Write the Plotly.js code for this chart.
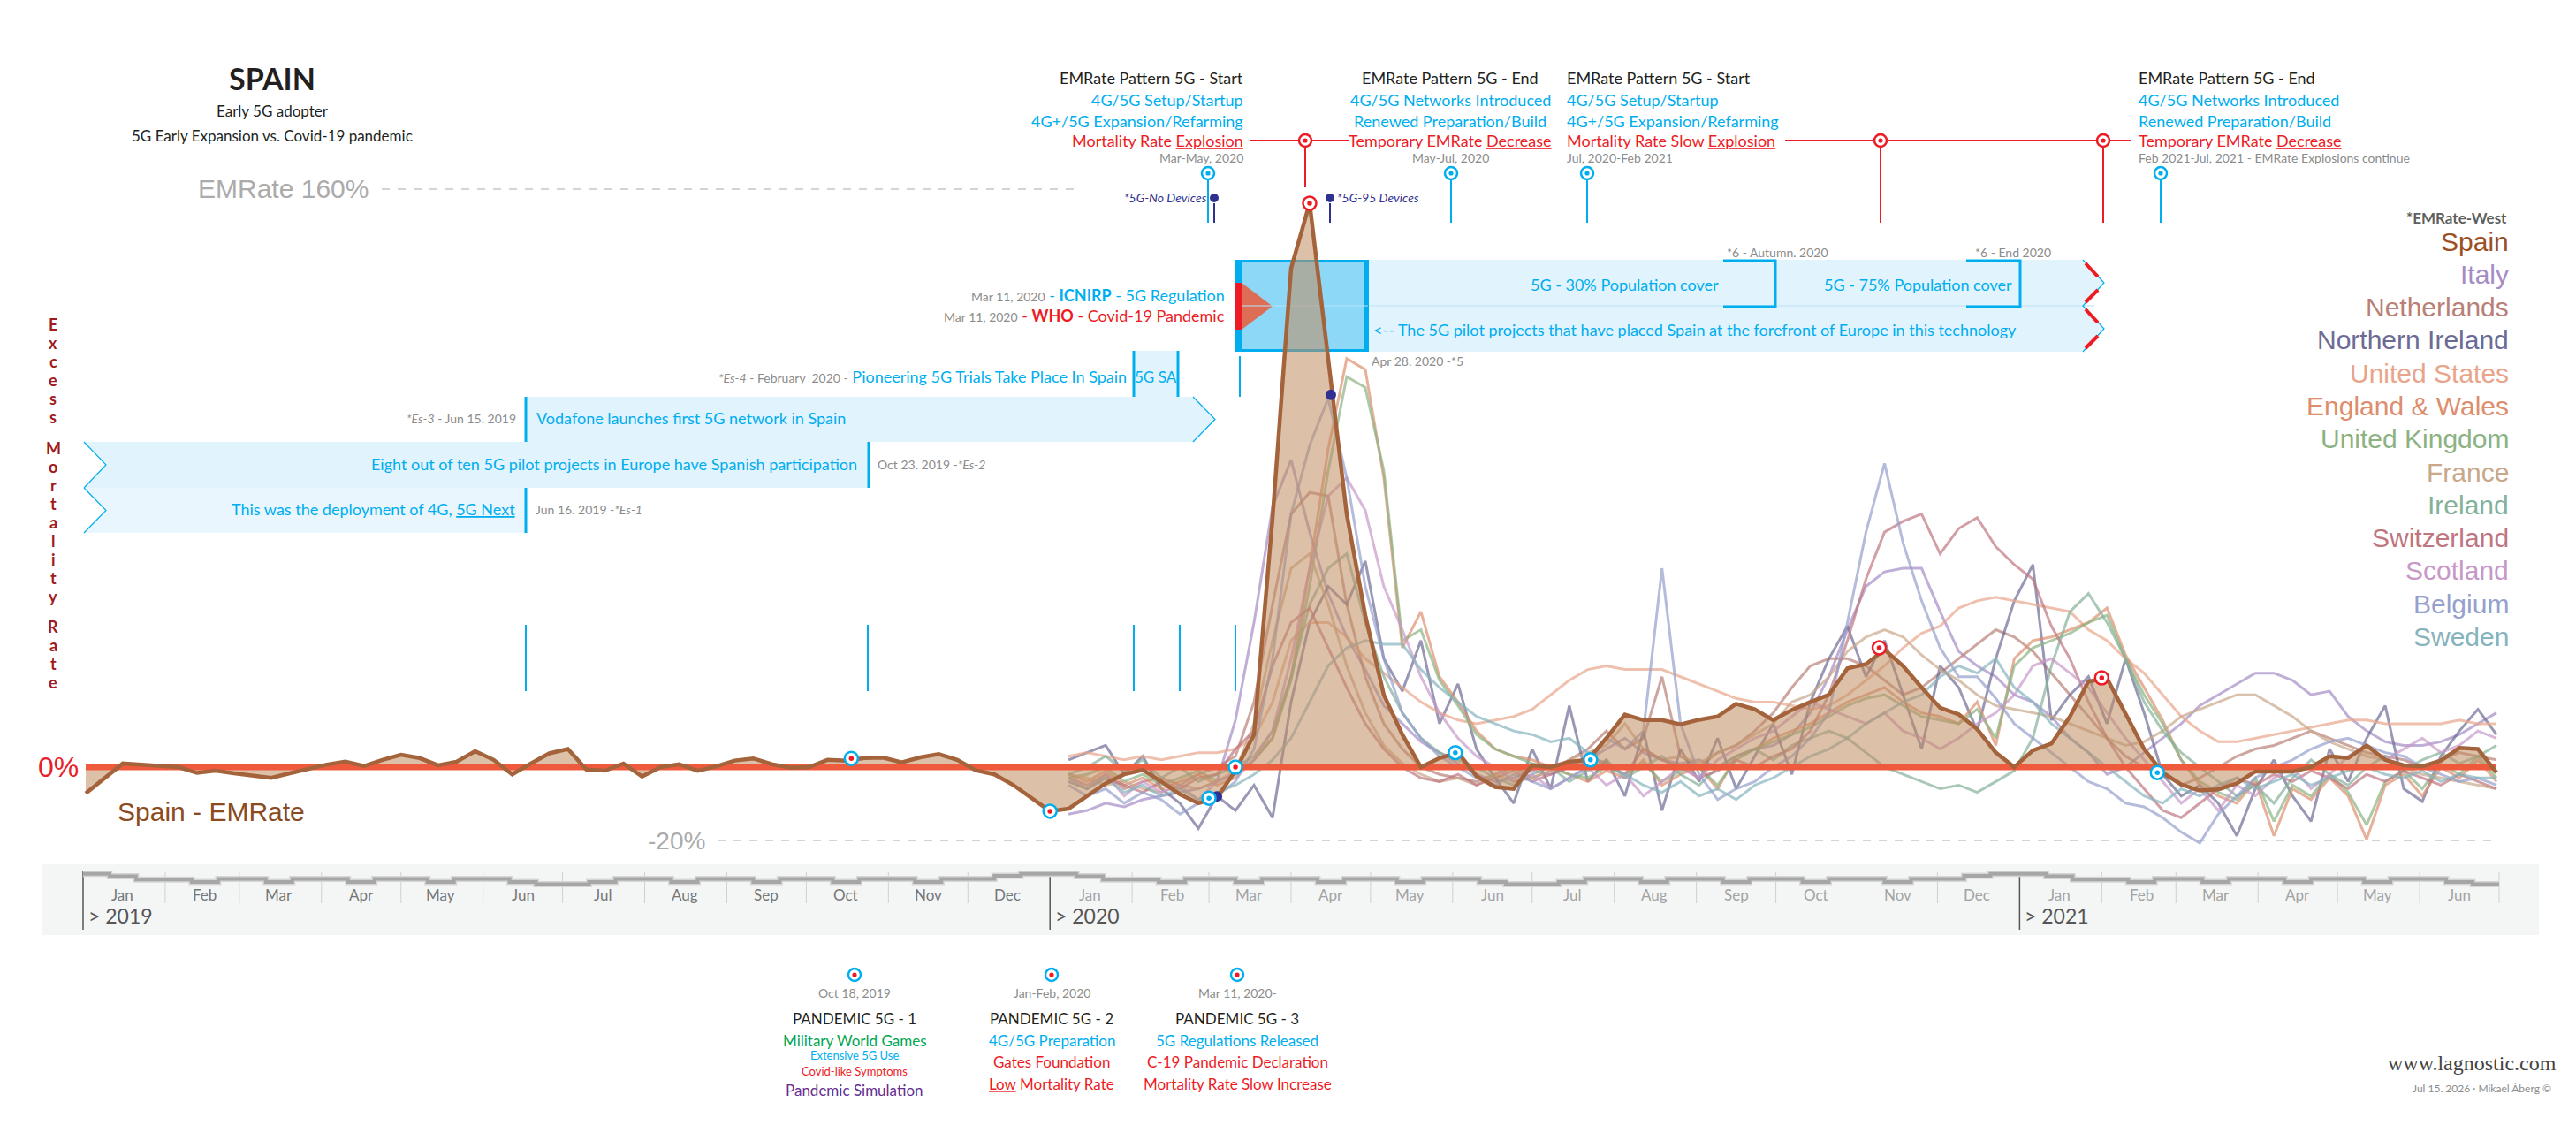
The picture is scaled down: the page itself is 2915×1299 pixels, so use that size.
<!DOCTYPE html>
<html><head><meta charset="utf-8">
<script src="https://cdn.plot.ly/plotly-3.0.1.min.js"></script>
<style>html,body{margin:0;padding:0;background:#fff;}#chart{width:2915px;height:1299px;}</style>
</head><body><div id="chart"></div>
<script>
// ---------------- DATA ----------------
// Spain weekly excess mortality (%), weeks starting 2019-01-02
const spainEMR = [
-7.3,-3,1,0.7,0.3,0,-1.6,-1,-1.7,-2.4,-3,-1.7,-0.6,0.7,1.5,0.3,2,3.4,2.5,0.5,1.5,4.4,2,-2,1,3.8,5,-0.7,-1,1,-2.6,0,0.8,-1,0.2,1.8,2.4,0.8,-0.2,0,2,1.8,2.5,2.6,1.3,2.7,3.6,2,-0.9,-2,-4.9,-8.5,-12.2,
-11.5,-8,-4.5,-2,-0.8,-4,-7.5,-10,-8.5,-1,
9,69,138,156,113,70,42,20,9,0,
2.5,4,-2.5,-5.5,-6,0.5,0,1.5,2,8,
14.5,13,13,11.8,13.1,14,17.5,16,13,15.8,
18,20,27.3,28.5,32.5,28,22,16.4,14.6,10.5,
4,0,4.6,6.5,14,23.7,24.5,15,5,-1.5,
-4.8,-6.5,-6.2,-4.5,-1.2,-1.2,-1.2,0,3,2.5,
6,2,0.5,0.2,1.8,5.3,5,-1.5];

// Other countries, weekly excess mortality (%), weeks starting 2020-01-08
const italy = [-13,-12,-10,-11,-9,-8,-7,-6,-4,13, 40,72,85,65,48,36,27,17,12,7, 4,1,-2,-4,-3,-1,-2,0,2,5, 8,4,2,1,2,0,3,5,6,9, 15,25,38,50,54,55,55,43,32,28, 25,20,18,14,8,4,-2,0,4,8, 12,17,20,23,26,26,24,20,21,14, 10,7,6,6,7,9,12,15];
const netherlands = [-3,-5,-2,-6,-4,-3,-5,-2,0,3, 18,45,70,76,75,45,25,12,5,0, -2,-3,-4,-2,0,-3,-1,2,5,10, 5,8,25,3,0,4,6,10,15,22, 28,30,30,28,24,20,22,26,30,34, 38,36,32,26,20,14,8,3,0,-2, -5,-3,0,3,5,6,8,10,8,6, 4,3,2,0,2,4,3,2];
const northernIreland = [2,4,6,-2,3,-6,-10,-17,-8,-12, -5,-14,18,40,50,45,57,30,21,35, 12,23,5,-3,-10,5,-6,17,-4,2, -8,10,-12,5,-4,8,-6,3,12,-2, 18,30,39,25,35,20,5,28,22,10, 30,46,56,13,20,25,12,30,15,-2, -8,-5,-10,-19,-6,2,-8,-15,5,-4, 8,17,-6,-9.5,3,10,16,9];
const unitedStates = [3,4,3,2,3,2,3,4,4,5, 8,18,35,40,40,36,30,26,22,18, 15,13,12,13,14,16,20,24,27,28, 27,27,27,25,23,21,19,18,18,17, 16,17,20,24,28,33,37,39,44,46, 47,46,45,44,43,38,35,30,26,20, 14,10,7,7,8,9,10,11,12,13, 13,12,12,12,12,13,12,12];
const englandWales = [-2,-4,-1,-5,-3,-6,-4,-2,-5,-3, 2,8,25,55,88,113,110,80,33,43, 25,18,10,5,3,2,0,-2,-4,-1, -3,2,-5,-2,0,-6,3,5,8,10, 12,15,18,20,22,18,15,14,12,18, 6,30,35,36,38,40,44,31,22,13, 2,-5,-8,-10,-4,-19,-6,-9,-3,-8, -20,-5,-2,-8,0,-3,2,-4];
const unitedKingdom = [-3,-2,0,-4,-2,-5,-3,-1,-4,-2, 2,8,24,50,82,108,105,82,35,38, 24,17,9,5,3,1,0,-2,-3,0, -2,1,-4,-1,0,-5,2,5,7,9, 11,14,17,19,20,17,14,13,12,16, 8,28,33,35,37,40,42,30,20,12, 2,-4,-7,-9,-3,-15,-5,-8,-2,-7, -16,-4,-1,-6,1,-2,3,-3];
const france = [-2,-3,-5,-4,-6,-7,-5,-6,-4,-1, 12,35,55,59,45,28,15,6,1,-2, -4,-3,-5,-2,-4,-3,-1,2,4,6, 12,5,2,3,1,4,6,9,12,18, 20,25,32,36,38,36,31,27,24,20, 17,16,15,14,12,10,8,6,7,10, 14,16,18,20,20,17,14,10,7,5, 3,2,0,-2,-3,-4,-5,-6];
const ireland = [-2,0,3,-1,2,-3,0,-4,-2,0, 3,10,25,45,55,59,40,25,15,8, 4,2,0,-3,-5,-2,0,-4,-1,2, -3,0,3,-2,-5,0,3,5,2,6, 8,10,8,4,0,-2,-4,-6,-5,-7, -4,-1,8,28,43,48,40,30,18,10, 4,0,-4,-8,-5,-10,-3,2,-2,-5, 0,3,-1,2,4,1,3,6];
const switzerland = [-4,-6,-3,-5,-7,-4,-6,-3,-2,5, 10,28,40,44,33,22,12,5,0,-3, -4,-2,-5,-3,-1,-4,-2,0,3,1, -2,5,2,0,-3,-1,2,0,3,5, 10,20,35,52,65,68,70,59,66,69, 61,56,52,39,30,18,8,0,-6,-12, -14,-10,-6,-3,-5,-2,-4,-1,-3,-6, -2,-4,-1,-3,-5,-2,-4,-6];
const scotland = [-3,-6,-2,-8,-4,-7,-5,-9,-4,-2, 2,10,30,55,75,80,71,50,38,25, 15,8,3,0,-4,-2,-6,-3,0,-5, -2,-8,-4,0,-3,2,5,8,10,14, 18,16,14,12,15,10,8,5,8,12, 15,20,28,30,26,22,15,8,2,-4, -10,-6,-12,-5,-8,-3,0,-6,-2,3, 6,2,5,8,4,6,10,8];
const belgium = [-5,-8,-6,-10,-7,-9,-13,-10,-8,-4, 5,30,70,89,102,80,50,30,15,8, 3,0,-3,-5,-2,-4,-6,-3,0,8, 5,10,55,12,-2,-9,-6,-4,0,3, 8,15,40,65,84,62,46,33,25,25, 19,12,8,4,0,-4,-6,-10,-11,-14, -18,-21,-13,-8,-3,0,2,5,7,8, 6,4,3,0,-2,-4,-3,-5];
const sweden = [-4,-6,-3,-7,-5,-8,-6,-9,-7,-5, -2,2,8,18,28,33,35,34,34,27, 22,18,14,12,10,9,7,8,4,0, -2,-5,-7,-4,-8,-6,-9,-5,-3,0, 3,5,8,12,15,18,20,25,28,26, 30,22,18,12,8,4,0,-4,-8,-10, -6,-8,-5,-3,-6,-4,-2,-5,-3,-1, 0,-2,-3,-1,-4,-2,-3,-3];

const countryNames = ['Italy','Netherlands','Northern Ireland','United States','England & Wales','United Kingdom','France','Ireland','Switzerland','Scotland','Belgium','Sweden'];
const countryColors = ['#a48cc4','#b98078','#6c6b94','#e8a58c','#dd8e6e','#8cb283','#c9a88a','#84b198','#bf7680','#c898c8','#96a0cc','#86b3bd'];
const countrySeries = [italy,netherlands,northernIreland,unitedStates,englandWales,unitedKingdom,france,ireland,switzerland,scotland,belgium,sweden];

// Event markers on the Spain curve
const eventDates  = ['2019-10-18','2020-01-01','2020-03-01','2020-03-11','2020-04-08','2020-06-02','2020-07-23','2020-11-09','2021-02-01','2021-02-22'];
const eventValues = [2.4,-12.2,-8.6,0,156,4,2,33,24.7,-1.5];
const eventKinds  = ['cr','cr','cc','cr','rr','cc','cc','rr','rr','cc'];
const navyDates = ['2020-03-04','2020-04-16'];
const navyValues = [-8.1,103];

// Month axis labels
const monthLabels = ['Jan','Feb','Mar','Apr','May','Jun','Jul','Aug','Sep','Oct','Nov','Dec'];
// seasonal band (axis decoration) levels per thirds of month
const bandLevels = {Jan:[-29.5,-30.2,-31.1], Feb:[-31.1,-31.8,-30.9], Jun:[-30.9,-31.8,-32.4], Jul:[-32.4,-31.8,-30.9], Dec:[-30.9,-30.1,-29.5], other:[-30.9,-31.8,-30.9]};

const legendNames = ['Spain','Italy','Netherlands','Northern Ireland','United States','England & Wales','United Kingdom','France','Ireland','Switzerland','Scotland','Belgium','Sweden'];
const legendColors = ['#9c4f22','#a48cc4','#b98078','#6c6b94','#e8a58c','#dd8e6e','#8cb283','#c9a88a','#84b198','#bf7680','#c898c8','#96a0cc','#86b3bd'];

const yTitleWords = ['Excess','Mortality','Rate'];

// ---------------- HELPERS ----------------
const W = 2915, H = 1299;
const FONT = "Lato, 'Open Sans', sans-serif";
const ARIAL = "'Liberation Sans', Arial, sans-serif";
const CYAN = '#00aeef', RED = '#ed1c24', GREY = '#8c8c8c', NAVY = '#2e3192', BLACK = '#231f20';

function weekSeq(y, m, d, n) {
  const out = [];
  for (let i = 0; i < n; i++) out.push(new Date(Date.UTC(y, m - 1, d + 7 * i)).toISOString().slice(0, 10));
  return out;
}
function iso(y, m, d) { return new Date(Date.UTC(y, m - 1, d)).toISOString().slice(0, 10); }

const spainWeeks = weekSeq(2019, 1, 2, spainEMR.length);
const countryWeeks = weekSeq(2020, 1, 8, 78);

const ZERO_PX = 868, PX_PER_PCT = 4.09;
const yRange = [-(H - ZERO_PX) / PX_PER_PCT, ZERO_PX / PX_PER_PCT];
const X0_PX = 94, X1_PX = 2828;
const d0 = Date.UTC(2019, 0, 1), d1 = Date.UTC(2021, 6, 1);
const msPerPx = (d1 - d0) / (X1_PX - X0_PX);
function fmt(ms) { return new Date(ms).toISOString().replace('T', ' ').slice(0, 19); }
const xRange = [fmt(d0 - X0_PX * msPerPx), fmt(d0 + (W - X0_PX) * msPerPx)];

const px = x => x / W;
const py = y => 1 - y / H;
const annotations = [];
const shapes = [];

function txt(text, x, y, size, color, anchor, opt) {
  opt = opt || {};
  const a = {xref: 'paper', yref: 'paper', x: px(x), y: py(y), text: text, showarrow: false,
    xanchor: anchor || 'center', yanchor: 'middle', borderpad: 0,
    font: {family: opt.family || FONT, size: size, color: color}};
  if (opt.weight) a.font.weight = opt.weight;
  annotations.push(a);
}
function line(x0, y0, x1, y1, color, width, dash, layer) {
  shapes.push({type: 'line', xref: 'paper', yref: 'paper', x0: px(x0), y0: py(y0), x1: px(x1), y1: py(y1),
    line: {color: color, width: width, dash: dash || 'solid'}, layer: layer || 'above'});
}
function rect(x0, y0, x1, y1, fill, layer) {
  shapes.push({type: 'rect', xref: 'paper', yref: 'paper', x0: px(x0), y0: py(y0), x1: px(x1), y1: py(y1),
    fillcolor: fill, line: {width: 0}, layer: layer || 'below'});
}
function pathStr(pts, close) {
  return pts.map((p, i) => (i ? 'L' : 'M') + px(p[0]).toFixed(6) + ',' + py(p[1]).toFixed(6)).join(' ') + (close ? ' Z' : '');
}
function poly(pts, fill, layer) {
  shapes.push({type: 'path', xref: 'paper', yref: 'paper', path: pathStr(pts, true), fillcolor: fill, line: {width: 0}, layer: layer || 'below'});
}
function polyline(pts, color, width, layer) {
  shapes.push({type: 'path', xref: 'paper', yref: 'paper', path: pathStr(pts, false), fillcolor: 'rgba(0,0,0,0)', line: {color: color, width: width}, layer: layer || 'below'});
}
function circle(cx, cy, r, fill, ring, rw) {
  shapes.push({type: 'circle', xref: 'paper', yref: 'paper', x0: px(cx - r), x1: px(cx + r), y0: py(cy + r), y1: py(cy - r),
    fillcolor: fill, line: {color: ring || fill, width: rw || 0}, layer: 'above'});
}
function target(cx, cy, ring, dot) { circle(cx, cy, 7, '#ffffff', ring, 2.5); circle(cx, cy, 2.6, dot); }

// ---------------- DECORATIONS ----------------
// title block
txt('<b>SPAIN</b>', 308, 89, 34, BLACK);
txt('Early 5G adopter', 308, 125, 17, BLACK);
txt('5G Early Expansion vs. Covid-19 pandemic', 308, 153, 17, BLACK);

// reference levels
txt('EMRate 160%', 418, 213, 30, '#ababab', 'right', {family: ARIAL});
line(432, 214, 1222, 214, '#d4d4d4', 2, 'dash', 'below');
txt('-20%', 799, 951, 28, '#ababab', 'right', {family: ARIAL});
line(812, 951, 2828, 951, '#d4d4d4', 2, 'dash', 'below');
txt('0%', 90, 868, 32, '#e8202a', 'right', {family: ARIAL});
txt('Spain - EMRate', 132, 918, 30, '#8b4a20', 'left', {family: ARIAL});

// vertical y-title, one letter per row
const wordStarts = [367, 507, 709];
yTitleWords.forEach((w, wi) => {
  w.split('').forEach((ch, ci) => txt('<b>' + ch + '</b>', 60, wordStarts[wi] + ci * 21, 18, '#9e1b20'));
});

// top pattern blocks
const blocks = [
  {x: 1408, a: 'right', l: ['EMRate Pattern 5G - Start', '4G/5G Setup/Startup', '4G+/5G Expansion/Refarming', 'Mortality Rate <u>Explosion</u>', 'Mar-May, 2020']},
  {x: 1641, a: 'center', l: ['EMRate Pattern 5G - End', '4G/5G Networks Introduced', 'Renewed Preparation/Build', 'Temporary EMRate <u>Decrease</u>', 'May-Jul, 2020']},
  {x: 1772, a: 'left', l: ['EMRate Pattern 5G - Start', '4G/5G Setup/Startup', '4G+/5G Expansion/Refarming', 'Mortality Rate Slow <u>Explosion</u>', 'Jul, 2020-Feb 2021']},
  {x: 2419, a: 'left', l: ['EMRate Pattern 5G - End', '4G/5G Networks Introduced', 'Renewed Preparation/Build', 'Temporary EMRate <u>Decrease</u>', 'Feb 2021-Jul, 2021 - EMRate Explosions continue']}
];
blocks.forEach(b => {
  txt(b.l[0], b.x, 88, 18, BLACK, b.a);
  txt(b.l[1], b.x, 113, 18, CYAN, b.a);
  txt(b.l[2], b.x, 137, 18, CYAN, b.a);
  txt(b.l[3], b.x, 159, 18, RED, b.a);
  txt(b.l[4], b.x, 179, 14, GREY, b.a);
});
line(1415, 159, 1526, 159, RED, 2);
line(2020, 159, 2411, 159, RED, 2);
line(1477, 166, 1477, 212, RED, 2);
line(2128, 166, 2128, 252, RED, 2);
line(2380, 166, 2380, 252, RED, 2);
[1477, 2128, 2380].forEach(x => target(x, 159, RED, RED));
[1367, 1642, 1796, 2445].forEach(x => { line(x, 203, x, 252, CYAN, 2); target(x, 196, CYAN, CYAN); });
line(1374, 230, 1374, 252, NAVY, 2);
line(1505, 230, 1505, 252, NAVY, 2);
circle(1374, 224, 5, NAVY);
circle(1505, 224, 5, NAVY);
txt('<i>*5G-No Devices</i>', 1367, 224, 14, NAVY, 'right');
txt('<i>*5G-95 Devices</i>', 1512, 224, 14, NAVY, 'left');

// big blue box (Mar 11 2020 onwards)
const LB = '#e1f3fc';
poly([[1548, 294], [2357, 294], [2381, 320], [2357, 346], [2381, 372], [2357, 398], [1548, 398]], LB);
line(1548, 346, 2370, 346, '#c9e9f8', 1.5, 'solid', 'below');
polyline([[2357, 294], [2381, 320], [2357, 346], [2381, 372], [2357, 398]], CYAN, 1.2);
[[2360, 298, 2374, 313], [2374, 328, 2360, 342], [2360, 350, 2374, 365], [2374, 380, 2360, 394]].forEach(s => line(s[0], s[1], s[2], s[3], RED, 4, 'solid', 'below'));
rect(1397, 294, 1548, 398, '#8dd7f7');
rect(1397, 294, 1548, 297, CYAN);
rect(1397, 395, 1548, 398, CYAN);
rect(1397, 294, 1405, 398, CYAN);
rect(1544, 294, 1549, 398, CYAN);
rect(1397, 320, 1405, 373, RED);
poly([[1405, 320], [1405, 373], [1440, 346.5]], '#dd6e55');
line(1405, 346, 1548, 346, '#b5e5fa', 1.2, 'solid', 'below');
// brackets
polyline([[1950, 295], [2009, 295], [2009, 347], [1950, 347]], CYAN, 3);
polyline([[2225, 295], [2286, 295], [2286, 347], [2225, 347]], CYAN, 3);
txt('5G - 30% Population cover', 1946, 322, 18, CYAN, 'right');
txt('5G - 75% Population cover', 2278, 322, 18, CYAN, 'right');
txt('*6 - Autumn. 2020', 1953, 285, 14, GREY, 'left');
txt('*6 - End 2020', 2234, 285, 14, GREY, 'left');
txt('&lt;-- The 5G pilot projects that have placed Spain at the forefront of Europe in this technology', 1553, 373, 18, CYAN, 'left');
txt('Apr 28. 2020 -*5', 1551, 409, 14, GREY, 'left');
txt('<span style="color:#8c8c8c;font-size:14px">Mar 11, 2020</span> - <b>ICNIRP</b> - 5G Regulation', 1387, 334, 18, CYAN, 'right');
txt('<span style="color:#8c8c8c;font-size:14px">Mar 11, 2020</span> - <b>WHO</b> - Covid-19 Pandemic', 1387, 357, 18, RED, 'right');

// 5G SA box and rows
rect(1283, 397, 1333, 449, LB);
line(1283, 397, 1283, 449, CYAN, 3, 'solid', 'below');
line(1333, 397, 1333, 449, CYAN, 3, 'solid', 'below');
txt('5G SA', 1308, 426, 17, CYAN);
txt('<span style="color:#8c8c8c;font-size:14px"><i>*Es-4</i> - February  2020 -</span> Pioneering 5G Trials Take Place In Spain', 1276, 426, 18, CYAN, 'right');
line(1403, 403, 1403, 449, CYAN, 2, 'solid', 'below');

poly([[595, 449], [1350, 449], [1375, 474.5], [1350, 500], [595, 500]], LB);
polyline([[1350, 449], [1375, 474.5], [1350, 500]], CYAN, 1.2);
line(595, 449, 595, 500, CYAN, 3, 'solid', 'below');
txt('Vodafone launches first 5G network in Spain', 606, 473, 18, CYAN, 'left');
txt('<i>*Es-3</i> - Jun 15. 2019', 585, 473, 14, GREY, 'right');

poly([[95, 500], [983, 500], [983, 552], [95, 552], [120, 526]], LB);
polyline([[95, 500], [120, 526], [95, 552]], CYAN, 1.2);
line(983, 500, 983, 552, CYAN, 3, 'solid', 'below');
txt('Eight out of ten 5G pilot projects in Europe have Spanish participation', 971, 525, 18, CYAN, 'right');
txt('Oct 23. 2019 -<i>*Es-2</i>', 992, 525, 14, GREY, 'left');

poly([[95, 552], [595, 552], [595, 603], [95, 603], [120, 577.5]], '#e9f6fd');
polyline([[95, 552], [120, 577.5], [95, 603]], CYAN, 1.2);
line(595, 552, 595, 603, CYAN, 3, 'solid', 'below');
txt('This was the deployment of 4G, <u>5G Next</u>', 584, 576, 18, CYAN, 'right');
txt('Jun 16. 2019 -<i>*Es-1</i>', 605, 576, 14, GREY, 'left');

// short cyan markers above baseline
[595, 982, 1283, 1335, 1398].forEach(x => line(x, 707, x, 782, CYAN, 2, 'solid', 'below'));

// legend
txt('<b>*EMRate-West</b>', 2838, 246, 17, '#5f5f5f', 'right');
legendNames.forEach((n, i) => txt(n, 2840, 273 + i * 37.3, 30, legendColors[i], 'right', {family: ARIAL}));

// axis panel
rect(47, 978, 2873, 1058, '#f4f6f5');
const monthStarts = [];
for (let m = 0; m <= 30; m++) monthStarts.push({y: 2019 + Math.floor(m / 12), m: m % 12});
monthStarts.forEach(o => {
  const d = iso(o.y, o.m + 1, 1);
  const isYear = o.m === 0;
  shapes.push({type: 'line', xref: 'x', yref: 'paper', x0: d, x1: d, y0: py(isYear ? 985 : 987), y1: py(isYear ? 1052 : 1022),
    line: {color: isYear ? '#555555' : '#cfcfcf', width: isYear ? 1.5 : 1}, layer: 'below'});
});
monthStarts.slice(0, 30).forEach(o => {
  annotations.push({xref: 'x', yref: 'paper', x: iso(o.y, o.m + 1, 16), y: py(1012), text: monthLabels[o.m], showarrow: false,
    xanchor: 'center', yanchor: 'middle', font: {family: FONT, size: 17, color: o.y === 2019 ? '#777777' : '#a3a3a3'}});
  if (o.m === 0) annotations.push({xref: 'x', yref: 'paper', x: iso(o.y, 1, 1), y: py(1036), xshift: 4, text: '&gt; ' + o.y, showarrow: false,
    xanchor: 'left', yanchor: 'middle', font: {family: FONT, size: 23, color: '#555555'}});
});
const bandX = [], bandY = [];
monthStarts.slice(0, 30).forEach(o => {
  const lv = bandLevels[monthLabels[o.m]] || bandLevels.other;
  [1, 11, 21].forEach((day, j) => { bandX.push(iso(o.y, o.m + 1, day)); bandY.push(lv[j]); });
});
bandX.push(iso(2021, 7, 1)); bandY.push(bandY[bandY.length - 1]);

// bottom pandemic blocks
target(967, 1103, CYAN, RED); target(1190, 1103, CYAN, RED); target(1400, 1103, CYAN, RED);
txt('Oct 18, 2019', 967, 1123, 14, GREY);
txt('PANDEMIC 5G - 1', 967, 1152, 17, BLACK);
txt('Military World Games', 967, 1177, 17, '#00a651');
txt('Extensive 5G Use', 967, 1194, 13, CYAN);
txt('Covid-like Symptoms', 967, 1212, 13, RED);
txt('Pandemic Simulation', 967, 1233, 17, '#662d91');
txt('Jan-Feb, 2020', 1190, 1123, 14, GREY);
txt('PANDEMIC 5G - 2', 1190, 1152, 17, BLACK);
txt('4G/5G Preparation', 1190, 1177, 17, CYAN);
txt('Gates Foundation', 1190, 1201, 17, RED);
txt('<u>Low</u> Mortality Rate', 1190, 1226, 17, RED);
txt('Mar 11, 2020-', 1400, 1123, 14, GREY);
txt('PANDEMIC 5G - 3', 1400, 1152, 17, BLACK);
txt('5G Regulations Released', 1400, 1177, 17, CYAN);
txt('C-19 Pandemic Declaration', 1400, 1201, 17, RED);
txt('Mortality Rate Slow Increase', 1400, 1226, 17, RED);

// footer
txt('www.lagnostic.com', 2894, 1203, 24, '#444444', 'right', {family: "'Liberation Serif', 'Times New Roman', serif"});
txt('Jul 15. 2026 · Mikael Åberg ©', 2888, 1231, 12, GREY, 'right');

// ---------------- TRACES ----------------
const traces = [];
traces.push({x: bandX, y: bandY, type: 'scatter', mode: 'lines', line: {shape: 'hv', color: '#d6d6d6', width: 7}, hoverinfo: 'skip'});
traces.push({x: bandX, y: bandY, type: 'scatter', mode: 'lines', line: {shape: 'hv', color: '#a6a6a6', width: 4}, hoverinfo: 'skip'});
countrySeries.forEach((s, i) => traces.push({
  x: countryWeeks.slice(0, s.length), y: s, type: 'scatter', mode: 'lines', name: countryNames[i],
  line: {color: countryColors[i], width: 3}, opacity: 0.7}));
traces.push({x: spainWeeks, y: spainEMR, type: 'scatter', mode: 'lines', fill: 'tozeroy',
  fillcolor: 'rgba(191,140,97,0.55)', line: {width: 0, color: 'rgba(0,0,0,0)'}, name: 'Spain fill'});
traces.push({x: [spainWeeks[0], spainWeeks[spainWeeks.length - 1]], y: [0, 0], type: 'scatter', mode: 'lines',
  line: {color: '#f05a3c', width: 7}, name: 'zero'});
traces.push({x: spainWeeks, y: spainEMR, type: 'scatter', mode: 'lines', name: 'Spain', line: {color: '#a5633b', width: 4.5}});
traces.push({x: navyDates, y: navyValues, type: 'scatter', mode: 'markers', marker: {color: NAVY, size: 12}});
const kindStyle = {cr: [CYAN, RED], cc: [CYAN, CYAN], rr: [RED, RED]};
Object.keys(kindStyle).forEach(k => {
  const xs = [], ys = [];
  eventKinds.forEach((kk, i) => { if (kk === k) { xs.push(eventDates[i]); ys.push(eventValues[i]); } });
  traces.push({x: xs, y: ys, type: 'scatter', mode: 'markers', marker: {color: '#ffffff', size: 15, line: {color: kindStyle[k][0], width: 2.5}}});
  traces.push({x: xs, y: ys, type: 'scatter', mode: 'markers', marker: {color: kindStyle[k][1], size: 5.5}});
});

const layout = {
  width: W, height: H, margin: {l: 0, r: 0, t: 0, b: 0}, showlegend: false,
  paper_bgcolor: '#ffffff', plot_bgcolor: 'rgba(0,0,0,0)',
  xaxis: {type: 'date', range: xRange, visible: false, fixedrange: true},
  yaxis: {range: yRange, visible: false, fixedrange: true},
  shapes: shapes, annotations: annotations, hovermode: false
};
Plotly.newPlot('chart', traces, layout, {staticPlot: true});
</script>
</body></html>
